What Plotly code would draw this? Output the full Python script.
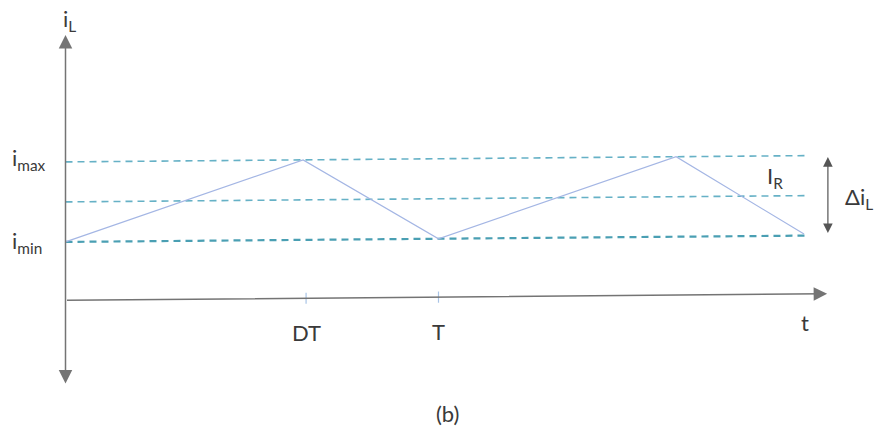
import plotly.graph_objects as go

# ---- data (time in units of the period T, current in arbitrary units) ----
wave_t = [0.0, 0.637, 1.0, 1.637, 1.98]
wave_i = [0.73, 1.73, 0.73, 1.73, 0.75]
i_min = 0.73
i_max = 1.73
i_R = 1.23
level_end_t = 1.99
tick_t = [0.645, 1.0]
tick_labels = ["DT", "T"]
axis_end_t = 2.042
axis_top_i = 3.316
axis_bottom_i = -1.059
delta_t = 2.044

SKEW = 0.0396  # slight rotation of the original drawing

def sk(t, i):
    return i + SKEW * t

FONT = "Lato"
TXT = "#3a3a3a"
AX = "#747474"

fig = go.Figure()

# dashed level lines
for lvl, col, w in [(i_max, "#66b1c6", 1.6), (i_R, "#66b1c6", 1.6), (i_min, "#4a9fb3", 2.2)]:
    fig.add_trace(go.Scatter(
        x=[0, level_end_t], y=[sk(0, lvl), sk(level_end_t, lvl)],
        mode="lines", line=dict(color=col, width=w, dash="7px,5px"),
        hoverinfo="skip", showlegend=False))

# inductor current waveform
fig.add_trace(go.Scatter(
    x=wave_t, y=[sk(t, v) for t, v in zip(wave_t, wave_i)],
    mode="lines", line=dict(color="#a4b6e4", width=1.2),
    hoverinfo="skip", showlegend=False))

# tick marks on time axis
for tt in tick_t:
    fig.add_shape(type="line", x0=tt, x1=tt, y0=sk(tt, 0) - 0.07, y1=sk(tt, 0) + 0.07,
                  line=dict(color="#a9c4e6", width=1.2))

ann = []
# vertical axis (arrows both ends)
ann.append(dict(x=0, y=axis_top_i, ax=0, ay=axis_bottom_i, xref="x", yref="y",
                axref="x", ayref="y", showarrow=True, arrowhead=2, startarrowhead=2,
                arrowside="end+start", arrowsize=1.8, startarrowsize=1.8,
                arrowwidth=1.5, arrowcolor=AX, text=""))
# horizontal axis
ann.append(dict(x=axis_end_t, y=sk(axis_end_t, 0), ax=0, ay=sk(0, 0), xref="x", yref="y",
                axref="x", ayref="y", showarrow=True, arrowhead=2, arrowsize=1.8,
                arrowwidth=1.5, arrowcolor=AX, text=""))
# delta i arrow
ann.append(dict(x=delta_t, y=sk(delta_t, i_max) - 0.02, ax=delta_t, ay=sk(delta_t, i_min) + 0.01,
                xref="x", yref="y", axref="x", ayref="y", showarrow=True,
                arrowhead=2, startarrowhead=2, arrowside="end+start",
                arrowsize=1.6, startarrowsize=1.6, arrowwidth=1.2, arrowcolor="#555555", text=""))

f = dict(family=FONT, size=22, color=TXT)
ann.append(dict(x=0.012, y=3.50, text="i<sub>L</sub>", showarrow=False, xref="x", yref="y", font=f))
ann.append(dict(x=-0.047, y=sk(0, i_max) + 0.04, text="i<sub>max</sub>", showarrow=False,
                xref="x", yref="y", xanchor="right", font=f))
ann.append(dict(x=-0.057, y=sk(0, i_min) + 0.0, text="i<sub>min</sub>", showarrow=False,
                xref="x", yref="y", xanchor="right", font=f))
for tt, lab in zip(tick_t, tick_labels):
    ann.append(dict(x=tt, y=sk(tt, 0), text=lab, showarrow=False, xref="x", yref="y",
                    yshift=-34, font=f))
ann.append(dict(x=1.982, y=sk(1.982, -0.36), text="t", showarrow=False, xref="x", yref="y", font=f))
ann.append(dict(x=1.902, y=1.54, text="I<sub>R</sub>", showarrow=False, xref="x", yref="y", font=f))
ann.append(dict(x=2.127, y=1.28, text="Δi<sub>L</sub>", showarrow=False, xref="x", yref="y", font=f))
ann.append(dict(x=1.023, y=-1.409, text="(b)", showarrow=False, xref="x", yref="y", font=f))

fig.update_layout(
    width=879, height=429,
    margin=dict(l=0, r=0, t=0, b=0),
    paper_bgcolor="white", plot_bgcolor="white",
    xaxis=dict(range=[-0.1756, 2.181], visible=False, fixedrange=True),
    yaxis=dict(range=[-1.609, 3.754], visible=False, fixedrange=True),
    annotations=ann,
    showlegend=False,
)

fig.write_html("out.html", config={"displayModeBar": False},
               post_script="document.body.style.margin='0';document.body.style.overflow='hidden';")
